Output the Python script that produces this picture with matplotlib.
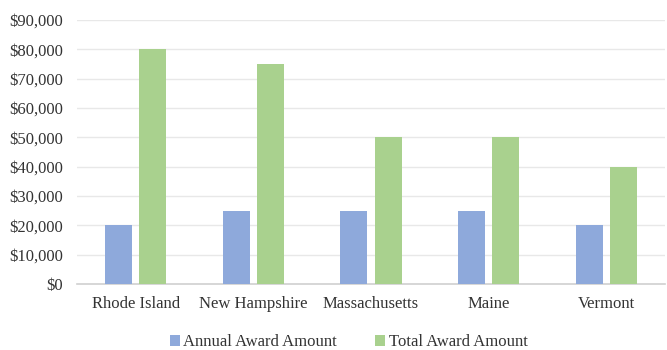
import numpy as np
import matplotlib
matplotlib.use("Agg")
import matplotlib.pyplot as plt
from matplotlib.ticker import FuncFormatter

states = ["Rhode Island", "New Hampshire", "Massachusetts", "Maine", "Vermont"]
annual = [20000, 25000, 25000, 25000, 20000]
total = [80000, 75000, 50000, 50000, 40000]

plt.rcParams['font.family'] = ['Liberation Serif', 'DejaVu Serif']

fig = plt.figure(figsize=(6.67, 3.5), dpi=100)
ax = fig.add_axes([0.1154, 0.1886, 0.8816, 0.7543])

x = np.arange(len(states))
w = 0.23
ax.bar(x - 0.145, annual, w, color="#8EA9DB", label="Annual Award Amount", zorder=3)
ax.bar(x + 0.145, total, w, color="#A9D18E", label="Total Award Amount", zorder=3)

ax.set_xlim(-0.5, len(states) - 0.5)
ax.set_ylim(0, 90000)
ax.set_yticks(range(0, 90001, 10000))
ax.yaxis.set_major_formatter(FuncFormatter(lambda v, p: "${:,.0f}".format(v)))
ax.set_xticks(x)
ax.set_xticklabels(states)
ax.tick_params(axis="both", length=0, labelsize=12, colors="#333333")
ax.tick_params(axis="x", pad=9)
ax.tick_params(axis="y", pad=10)
ax.grid(axis="y", color="#E8E8E8", linewidth=1, zorder=0)
for s in ["top", "right", "left"]:
    ax.spines[s].set_visible(False)
ax.spines["bottom"].set_color("#D0D0D0")
ax.spines["bottom"].set_linewidth(1.2)

fig.legend(loc="center", bbox_to_anchor=(0.523, 0.022), ncol=2, frameon=False,
           fontsize=12, handlelength=0.6, handleheight=0.6, handletextpad=0.2,
           columnspacing=2.3, labelcolor="#333333")

fig.savefig("out.png", dpi=100)
